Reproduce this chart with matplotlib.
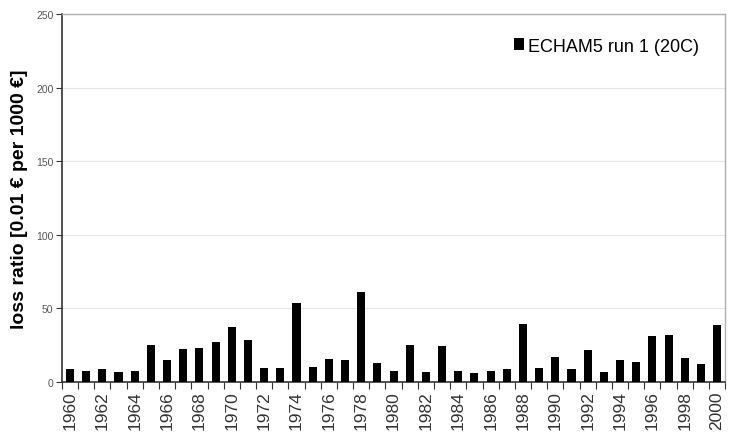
# Loss ratio bar chart, ECHAM5 run 1 (20C)
import numpy as np
import matplotlib.pyplot as plt
from matplotlib.ticker import FixedLocator, NullFormatter

plt.rcParams['font.family'] = ['Liberation Sans', 'DejaVu Sans']

# data
years = list(range(1960, 2001))
loss_ratio = [8.7, 7.3, 8.5, 6.8, 7.8, 25.3, 14.9, 22.4, 23.0, 27.0,
              37.2, 28.6, 9.2, 9.6, 53.9, 10.5, 15.9, 14.9, 61.2, 12.6,
              7.8, 24.9, 7.1, 24.7, 7.3, 6.4, 7.3, 8.5, 39.7, 9.2,
              16.9, 9.0, 21.7, 7.1, 14.9, 13.5, 31.3, 32.2, 16.4, 12.2,
              38.6]
series_name = 'ECHAM5 run 1 (20C)'
y_ticks = [0, 50, 100, 150, 200, 250]

fig = plt.figure(figsize=(7.37, 4.39), dpi=100)
ax = fig.add_axes([0.084, 0.1276, 0.9, 0.8384])

x = np.arange(len(years))
ax.bar(x, loss_ratio, width=0.5, color='black', label=series_name, zorder=3)

ax.set_xlim(-0.5, len(years) - 0.5)
ax.set_ylim(0, 250)
ax.set_yticks(y_ticks)
ax.tick_params(axis='y', labelsize=7.5, labelcolor='#555555', length=4,
               color='#333333', pad=2)
ax.yaxis.grid(True, color='#e6e6e6', linewidth=0.8, zorder=0)

# ticks between categories, labels on every other year
ax.xaxis.set_major_locator(FixedLocator(np.arange(len(years) + 1) - 0.5))
ax.xaxis.set_major_formatter(NullFormatter())
ax.tick_params(axis='x', which='major', length=5, color='#333333')
ax.set_xticks(x[::2], minor=True)
ax.set_xticklabels([str(y) for y in years[::2]], minor=True, rotation=90,
                   fontsize=12.5, color='#333333')
ax.tick_params(axis='x', which='minor', length=0, pad=6)

ax.set_ylabel('loss ratio [0.01 € per 1000 €]', fontsize=14,
              fontweight='bold', labelpad=6)

for side in ['left', 'bottom']:
    ax.spines[side].set_color('#333333')
    ax.spines[side].set_linewidth(1.2)
for side in ['top', 'right']:
    ax.spines[side].set_color('#b0b0b0')
    ax.spines[side].set_linewidth(1.0)

leg = ax.legend(loc='upper right', frameon=False, fontsize=13,
                handlelength=0.6, handleheight=0.6, handletextpad=0.2,
                bbox_to_anchor=(0.985, 0.98))

fig.savefig('out.png', dpi=100)
